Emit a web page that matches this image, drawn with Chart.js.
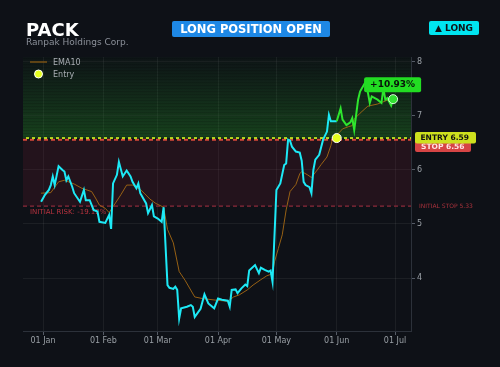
<!DOCTYPE html>
<html>
<head>
<meta charset="utf-8">
<script src="https://cdn.jsdelivr.net/npm/chart.js@4"></script>
<style>
  body { margin: 0; background: #0e1117; }
  #wrap { position: relative; width: 500px; height: 367px; overflow: hidden; font-family: 'DejaVu Sans', sans-serif; }
  canvas { position: absolute; left: 0; top: 0; }
  .t { position: absolute; white-space: nowrap; }
  #ticker { left: 26px; top: 21px; font-size: 18px; line-height: 18px; font-weight: bold; color: #ffffff; }
  #name { left: 26px; top: 38px; font-size: 9px; line-height: 9px; color: #8b9099; }
  #status { left: 172px; top: 21px; width: 158px; height: 16px; background: #1e88e5; color: #fff; font-weight: bold;
            font-size: 11.5px; line-height: 16px; text-align: center; border-radius: 2px; }
  #side { left: 429px; top: 21px; width: 50px; height: 14px; background: #00e5f0; color: #0e1117; font-weight: bold;
          font-size: 9px; line-height: 14px; text-align: center; border-radius: 2px; }
</style>
</head>
<body>
<div id="wrap">
  <canvas id="chart" width="500" height="367"></canvas>
  <div class="t" id="ticker">PACK</div>
  <div class="t" id="name">Ranpak Holdings Corp.</div>
  <div class="t" id="status">LONG POSITION OPEN</div>
  <div class="t" id="side">▲ LONG</div>
</div>
<script>
// days counted from 01 Jan (day 0)
const monthTicks = [0, 31, 59, 90, 120, 151, 181];
const monthLabels = ['01 Jan', '01 Feb', '01 Mar', '01 Apr', '01 May', '01 Jun', '01 Jul'];
const yTicks = [4, 5, 6, 7, 8];

// close before entry
const preDays = [-1,1,3,4,5,6,8,10,11,12,13,15,16,19,21,22,24,26,28,29,32,34,35,36,38,39,41,43,45,46,
  48,49,50,53,54,56,57,59,61,62,64,65,67,68,69,70,71,74,76,77,78,81,83,85,88,90,92,95,96,97,
  99,100,102,104,105,106,109,111,112,114,116,117,118,120,122,124,125,126,127,128,130,132,133,134,135,137,138,139,140,142,
  144,146,147,148,151];
const preClose = [5.41,5.54,5.63,5.72,5.88,5.72,6.07,6.00,5.97,5.81,5.88,5.69,5.57,5.41,5.63,5.44,5.44,5.26,5.23,5.04,
  5.02,5.17,4.91,5.75,5.91,6.15,5.88,5.99,5.88,5.78,5.66,5.75,5.57,5.38,5.20,5.35,5.14,5.10,5.04,5.31,
  3.87,3.82,3.80,3.84,3.78,3.25,3.44,3.47,3.50,3.47,3.28,3.43,3.70,3.53,3.44,3.62,3.60,3.58,3.47,3.78,
  3.79,3.72,3.81,3.88,3.85,4.14,4.24,4.09,4.19,4.15,4.12,4.14,3.93,5.63,5.75,6.09,6.12,6.56,6.54,6.43,
  6.34,6.32,6.17,5.78,5.72,5.68,5.57,6.00,6.19,6.28,6.56,6.71,7.02,6.90,6.90];

// close since entry
const postDays = [151,153,154,156,158,159,160,162,163,166,168,169,172,174,175,176,177,178,179,180];
const postClose = [6.90,7.14,6.93,6.83,6.88,6.96,6.74,7.30,7.45,7.64,7.24,7.36,7.30,7.24,7.51,7.30,7.33,7.26,7.19,7.31];

// EMA10
const emaDays = [-1,4,8,11,16,20,25,27,29,32,34,36,40,43,46,50,52,55,58,62,64,67,70,73,78,82,89,95,98,101,
  105,108,112,115,118,119,121,123,125,127,130,132,133,136,138,141,143,146,148,149,152,154,157,159,160,163,167,172,177,180];
const emaVals = [5.57,5.58,5.78,5.81,5.74,5.66,5.60,5.48,5.35,5.29,5.21,5.32,5.54,5.72,5.72,5.64,5.57,5.46,5.38,5.31,
  4.90,4.65,4.12,3.96,3.65,3.62,3.59,3.57,3.65,3.69,3.78,3.87,3.97,4.04,4.08,4.30,4.55,4.80,5.26,5.60,
  5.73,5.93,5.97,5.91,5.86,6.00,6.10,6.24,6.45,6.60,6.68,6.76,6.80,6.82,6.94,7.05,7.18,7.22,7.29,7.31];

const entryDay = 151, entryPrice = 6.59, stopPrice = 6.56, initialStop = 5.33;
const lastDay = 180, lastPrice = 7.31;
const gainText = '+10.93%', riskText = 'INITIAL RISK: -19.12%';

const pts = (xs, ys) => xs.map((d, i) => ({ x: d, y: ys[i] }));
const FONT = "'DejaVu Sans', sans-serif";

const zones = {
  id: 'zones',
  beforeDatasetsDraw(chart) {
    const { ctx, chartArea: a, scales: { x, y } } = chart;
    const yE = y.getPixelForValue(entryPrice);
    const yS = y.getPixelForValue(stopPrice);
    const yI = y.getPixelForValue(initialStop);
    ctx.save();
    ctx.beginPath();
    ctx.rect(a.left, a.top, a.width, a.height);
    ctx.clip();
    // risk zone
    ctx.fillStyle = 'rgba(120,30,50,0.2)';
    ctx.fillRect(a.left, yS, a.width, yI - yS);
    // profit zone
    const g = ctx.createLinearGradient(0, yE, 0, a.top);
    g.addColorStop(0, 'rgba(40,150,40,0.36)');
    g.addColorStop(1, 'rgba(40,150,40,0.03)');
    ctx.fillStyle = g;
    ctx.fillRect(a.left, a.top, a.width, yE - a.top);
    ctx.fillStyle = 'rgba(0,0,0,0.13)';
    for (let yy = yE - 2; yy > a.top; yy -= 3) ctx.fillRect(a.left, yy, a.width, 1);
    // initial stop line
    ctx.setLineDash([4, 3]);
    ctx.lineWidth = 1.2;
    ctx.strokeStyle = '#8c2a3a';
    ctx.beginPath(); ctx.moveTo(a.left, yI); ctx.lineTo(a.right, yI); ctx.stroke();
    // stop + entry lines
    ctx.lineWidth = 2;
    ctx.strokeStyle = '#d84a3a';
    ctx.beginPath(); ctx.moveTo(a.left, yS); ctx.lineTo(a.right, yS); ctx.stroke();
    ctx.lineDashOffset = 3;
    ctx.setLineDash([3, 3]);
    ctx.strokeStyle = '#b8d820';
    ctx.beginPath(); ctx.moveTo(a.left, yE); ctx.lineTo(a.right, yE); ctx.stroke();
    ctx.setLineDash([]);
    // risk text
    ctx.font = '7px ' + FONT;
    ctx.fillStyle = '#b8333f';
    ctx.textBaseline = 'middle';
    ctx.textAlign = 'left';
    ctx.fillText(riskText, a.left + 7, yI + 6.5);
    ctx.restore();
  },
  afterDraw(chart) {
    const { ctx, chartArea: a, scales: { x, y } } = chart;
    const yE = y.getPixelForValue(entryPrice);
    const yI = y.getPixelForValue(initialStop);
    ctx.save();
    ctx.textBaseline = 'middle';
    ctx.textAlign = 'left';
    // initial stop label
    ctx.font = '6px ' + FONT;
    ctx.fillStyle = '#a8323c';
    ctx.fillText('INITIAL STOP ' + initialStop.toFixed(2), a.right + 8, yI);
    // stop box
    ctx.fillStyle = '#d64545';
    ctx.beginPath(); ctx.roundRect(a.right + 4, yE + 2, 56, 12, 2); ctx.fill();
    ctx.font = 'bold 7.5px ' + FONT;
    ctx.fillStyle = '#ffe3e3';
    ctx.fillText('STOP ' + stopPrice.toFixed(2), a.right + 10, yE + 8.5);
    // entry box
    ctx.fillStyle = '#cde01e';
    ctx.beginPath(); ctx.roundRect(a.right + 4, yE - 6, 61, 11.5, 2); ctx.fill();
    ctx.fillStyle = '#111111';
    ctx.fillText('ENTRY ' + entryPrice.toFixed(2), a.right + 9.5, yE);
    // gain box
    const gx = x.getPixelForValue(lastDay) - 29, gy = y.getPixelForValue(lastPrice) - 22;
    ctx.fillStyle = '#22dd22';
    ctx.beginPath(); ctx.roundRect(gx, gy, 57, 15, 2); ctx.fill();
    ctx.font = 'bold 9px ' + FONT;
    ctx.fillStyle = '#08140a';
    ctx.textAlign = 'center';
    ctx.fillText(gainText, gx + 28.5, gy + 7.8);
    // legend
    ctx.textAlign = 'left';
    ctx.strokeStyle = '#7a5214';
    ctx.lineWidth = 1.5;
    ctx.beginPath(); ctx.moveTo(30, 62); ctx.lineTo(47, 62); ctx.stroke();
    ctx.font = '8px ' + FONT;
    ctx.fillStyle = '#a9adb3';
    ctx.fillText('EMA10', 53, 62.5);
    ctx.fillStyle = '#e6ff1f';
    ctx.strokeStyle = '#ffffff';
    ctx.lineWidth = 1;
    ctx.beginPath(); ctx.arc(38.5, 74, 4, 0, Math.PI * 2); ctx.fill(); ctx.stroke();
    ctx.fillStyle = '#a9adb3';
    ctx.fillText('Entry', 53, 74.5);
    ctx.restore();
  }
};

new Chart(document.getElementById('chart'), {
  type: 'line',
  data: {
    datasets: [
      { label: 'Last', data: [{ x: lastDay, y: lastPrice }], showLine: false, pointRadius: 4.5,
        pointBackgroundColor: '#33e033', pointBorderColor: '#d8ffd8', pointBorderWidth: 1, order: 0 },
      { label: 'Entry', data: [{ x: entryDay, y: entryPrice }], showLine: false, pointRadius: 4.5,
        pointBackgroundColor: '#e6ff1f', pointBorderColor: '#ffffff', pointBorderWidth: 1, order: 0 },
      { label: 'Since entry', data: pts(postDays, postClose), borderColor: '#2ee62e', borderWidth: 2,
        pointRadius: 0, tension: 0, order: 1 },
      { label: 'Close', data: pts(preDays, preClose), borderColor: '#1de9f6', borderWidth: 2,
        pointRadius: 0, tension: 0, order: 2 },
      { label: 'EMA10', data: pts(emaDays, emaVals), borderColor: 'rgba(165,105,20,0.9)', borderWidth: 1,
        pointRadius: 0, tension: 0, order: 3 }
    ]
  },
  options: {
    responsive: false,
    animation: false,
    layout: { padding: { left: 23, top: 57, right: 0, bottom: 0 } },
    plugins: { legend: { display: false }, tooltip: { enabled: false } },
    scales: {
      x: {
        type: 'linear', min: -10.3, max: 189.2,
        afterBuildTicks: s => { s.ticks = monthTicks.map(v => ({ value: v })); },
        afterFit: s => { s.height = 36; },
        ticks: { color: '#9aa0a6', font: { family: FONT, size: 8 }, padding: 1, maxRotation: 0, autoSkip: false,
                 callback: (v, i) => monthLabels[i] },
        grid: { color: 'rgba(255,255,255,0.06)', tickColor: '#555b66', tickLength: 4 },
        border: { color: '#2c313a' }
      },
      y: {
        position: 'right', min: 3.02, max: 8.09,
        afterBuildTicks: s => { s.ticks = yTicks.map(v => ({ value: v })); },
        afterFit: s => { s.width = 89; },
        ticks: { color: '#9aa0a6', font: { family: FONT, size: 8 }, padding: 2 },
        grid: { color: 'rgba(255,255,255,0.06)', tickColor: '#555b66', tickLength: 4 },
        border: { color: '#2c313a' }
      }
    }
  },
  plugins: [zones]
});
</script>
</body>
</html>
